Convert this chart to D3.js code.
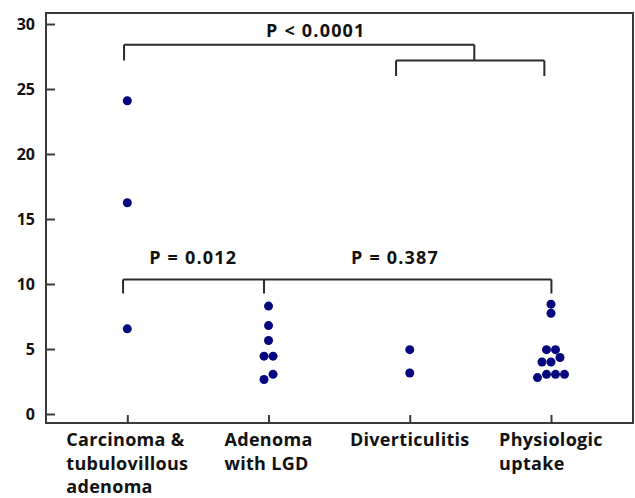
<!DOCTYPE html>
<html>
<head>
<meta charset="utf-8">
<script src="https://cdn.jsdelivr.net/npm/d3@7"></script>
<style>
  html, body { margin: 0; padding: 0; background: #fff; }
  svg { display: block; }
  text { font-family: "Open Sans", "DejaVu Sans", sans-serif; font-weight: 700; fill: #111; }
</style>
</head>
<body>
<svg id="chart" width="635" height="498"></svg>
<script>
// ---- data ----
const categories = [
  ["Carcinoma &", "tubulovillous", "adenoma"],
  ["Adenoma", "with LGD"],
  ["Diverticulitis"],
  ["Physiologic", "uptake"]
];
const yTicks = [0, 5, 10, 15, 20, 25, 30];

const carcinomaValues      = [24.1, 16.25, 6.55];
const adenomaValues        = [8.3, 6.8, 5.65, 4.45, 4.45, 3.05, 2.65];
const diverticulitisValues = [4.95, 3.15];
const physiologicValues    = [8.45, 7.75, 4.95, 4.95, 4.35, 4.0, 4.0, 3.05, 3.05, 3.05, 2.8];

// swarm lane of each point (half-dot steps left/right of the category centre)
const carcinomaLanes      = [0, 0, 0];
const adenomaLanes        = [0, 0, 0, -1, 1, 1, -1];
const diverticulitisLanes = [0, 0];
const physiologicLanes    = [0, 0, -1, 1, 2, -2, 0, -1, 1, 3, -3];

const pLabels = ["P < 0.0001", "P = 0.012", "P = 0.387"];

// ---- layout ----
const frame = { left: 46, top: 13, right: 633, bottom: 423 };
const svg = d3.select("#chart");

const x = d3.scaleLinear().domain([0, 3]).range([127.3, 551]);
const y = d3.scaleLinear().domain([0, 30]).range([414, 24]);

const series = [
  { vals: carcinomaValues, lanes: carcinomaLanes },
  { vals: adenomaValues, lanes: adenomaLanes },
  { vals: diverticulitisValues, lanes: diverticulitisLanes },
  { vals: physiologicValues, lanes: physiologicLanes }
];
const points = [];
series.forEach((s, i) => s.vals.forEach((v, j) => points.push({ cat: i, v, lane: s.lanes[j] })));

const lineColor = "#2b2b2b";

// frame
svg.append("rect")
  .attr("x", frame.left).attr("y", frame.top)
  .attr("width", frame.right - frame.left).attr("height", frame.bottom - frame.top)
  .attr("fill", "none").attr("stroke", "#3a3a3a").attr("stroke-width", 2);

// y axis (ticks pointing inward)
const yAxis = d3.axisRight(y).tickValues(yTicks).tickSize(9).tickPadding(0).tickFormat("");
const gy = svg.append("g").attr("transform", `translate(${frame.left},0)`).call(yAxis);
gy.select(".domain").remove();
gy.selectAll(".tick line").attr("stroke", "#3a3a3a").attr("stroke-width", 2);
svg.append("g").selectAll("text").data(yTicks).join("text")
  .attr("x", 35).attr("y", d => y(d)).attr("dy", "0.36em")
  .attr("text-anchor", "end").style("font-size", "16px").text(d => d);

// x axis (ticks pointing inward)
const xAxis = d3.axisTop(x).tickValues([0, 1, 2, 3]).tickSize(8).tickFormat("");
const gx = svg.append("g").attr("transform", `translate(0,${frame.bottom})`).call(xAxis);
gx.select(".domain").remove();
gx.selectAll(".tick line").attr("stroke", "#3a3a3a").attr("stroke-width", 2);

// x category labels: block centred on the category, lines left-aligned
categories.forEach((lines, i) => {
  const g = svg.append("g");
  const texts = g.selectAll("text").data(lines).join("text")
    .attr("y", (d, k) => 446 + k * 23.5)
    .style("font-size", "18px").style("letter-spacing", "0.3px").text(d => d);
  let maxW = 0;
  texts.each(function() { maxW = Math.max(maxW, this.getComputedTextLength()); });
  texts.attr("x", x(i) - maxW / 2);
});

// brackets
const br = svg.append("g").attr("fill", "none").attr("stroke", lineColor).attr("stroke-width", 2);
function bracket(xs, yTop, yBottom) {
  const p = d3.path();
  p.moveTo(x(xs[0]), y(yTop)); p.lineTo(x(xs[xs.length - 1]), y(yTop));
  xs.forEach(xi => { p.moveTo(x(xi), y(yTop)); p.lineTo(x(xi), y(yBottom)); });
  br.append("path").attr("d", p.toString());
}
bracket([-0.023, 2.457], 28.4, 27.2);
bracket([1.903, 2.953], 27.2, 26.0);
bracket([-0.03, 0.968, 3.003], 10.35, 9.27);

// p-value labels
const pStyle = sel => sel.attr("text-anchor", "middle").style("font-size", "18px").style("letter-spacing", "1.2px");
svg.append("text").attr("x", x(1.335)).attr("y", y(29.02)).call(pStyle).text(pLabels[0]);
svg.append("text").attr("x", x(0.467)).attr("y", y(11.54)).call(pStyle).text(pLabels[1]);
svg.append("text").attr("x", x(1.896)).attr("y", y(11.54)).call(pStyle).text(pLabels[2]);

// points
const r = 4.5;
svg.append("g").selectAll("circle").data(points).join("circle")
  .attr("cx", d => x(d.cat) + d.lane * r)
  .attr("cy", d => y(d.v))
  .attr("r", r)
  .attr("fill", "#06067f");
</script>
</body>
</html>
